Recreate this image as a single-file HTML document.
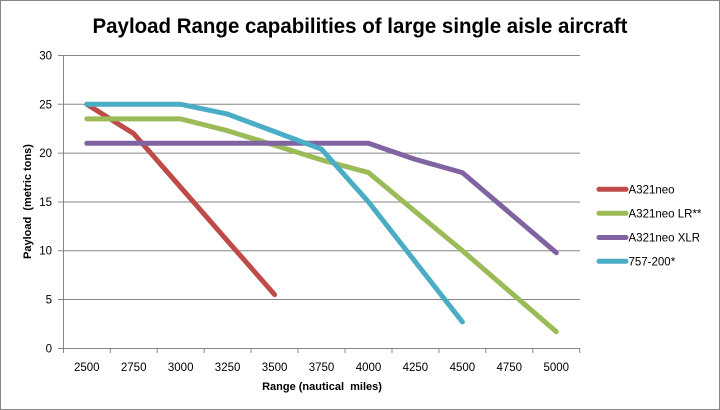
<!DOCTYPE html>
<html>
<head>
<meta charset="utf-8">
<style>
html,body{margin:0;padding:0;background:#fff;}
svg{display:block;}
text{font-family:"Liberation Sans",Arial,sans-serif;fill:#000;}
</style>
</head>
<body>
<svg width="720" height="410" viewBox="0 0 720 410" xmlns="http://www.w3.org/2000/svg">
<rect x="0.5" y="0.5" width="719" height="409" fill="#fff" stroke="#868686" stroke-width="1"/>
<text x="360" y="33" font-size="21" font-weight="bold" text-anchor="middle" textLength="535" lengthAdjust="spacingAndGlyphs">Payload Range capabilities of large single aisle aircraft</text>

<!-- gridlines -->
<g stroke="#868686" stroke-width="1">
<line x1="58" y1="55.5" x2="580" y2="55.5"/>
<line x1="58" y1="104.3" x2="580" y2="104.3"/>
<line x1="58" y1="153.1" x2="580" y2="153.1"/>
<line x1="58" y1="202" x2="580" y2="202"/>
<line x1="58" y1="250.7" x2="580" y2="250.7"/>
<line x1="58" y1="299.5" x2="580" y2="299.5"/>
<line x1="58" y1="348.5" x2="580" y2="348.5"/>
<line x1="63.5" y1="55.5" x2="63.5" y2="353"/>
<line x1="110.3" y1="348" x2="110.3" y2="353"/>
<line x1="157.2" y1="348" x2="157.2" y2="353"/>
<line x1="204.2" y1="348" x2="204.2" y2="353"/>
<line x1="251.1" y1="348" x2="251.1" y2="353"/>
<line x1="298" y1="348" x2="298" y2="353"/>
<line x1="345" y1="348" x2="345" y2="353"/>
<line x1="392" y1="348" x2="392" y2="353"/>
<line x1="438.9" y1="348" x2="438.9" y2="353"/>
<line x1="485.8" y1="348" x2="485.8" y2="353"/>
<line x1="532.8" y1="348" x2="532.8" y2="353"/>
<line x1="579.7" y1="348" x2="579.7" y2="353"/>
</g>

<!-- y tick labels -->
<g font-size="11.5" text-anchor="end">
<text x="52" y="59.5">30</text>
<text x="52" y="108.3">25</text>
<text x="52" y="157.1">20</text>
<text x="52" y="206">15</text>
<text x="52" y="254.7">10</text>
<text x="52" y="303.5">5</text>
<text x="52" y="352.5">0</text>
</g>

<!-- x tick labels -->
<g font-size="11.5" text-anchor="middle">
<text x="86.8" y="371">2500</text>
<text x="133.7" y="371">2750</text>
<text x="180.7" y="371">3000</text>
<text x="227.6" y="371">3250</text>
<text x="274.6" y="371">3500</text>
<text x="321.5" y="371">3750</text>
<text x="368.5" y="371">4000</text>
<text x="415.4" y="371">4250</text>
<text x="462.4" y="371">4500</text>
<text x="509.3" y="371">4750</text>
<text x="556.3" y="371">5000</text>
</g>

<text x="322" y="390" font-size="11" font-weight="bold" text-anchor="middle" xml:space="preserve">Range (nautical  miles)</text>
<text transform="translate(31,201.5) rotate(-90)" font-size="11" font-weight="bold" text-anchor="middle" xml:space="preserve">Payload  (metric tons)</text>

<!-- series -->
<g fill="none" stroke-width="5" stroke-linecap="round" stroke-linejoin="round">
<polyline stroke="#BE4B48" points="86.8,104.3 133.7,133.6 180.7,187.3 227.6,241 274.6,294.6"/>
<polyline stroke="#9BBB59" points="86.8,118.9 133.7,118.9 180.7,118.9 227.6,130.7 274.6,145.3 321.5,159.9 368.5,172.6 415.4,211.7 462.4,250.7 509.3,291.2 556.3,331.7"/>
<polyline stroke="#8064A2" points="86.8,143.3 133.7,143.3 180.7,143.3 227.6,143.3 274.6,143.3 321.5,143.3 368.5,143.3 415.4,159.4 462.4,172.6 509.3,212.6 556.3,252.7"/>
<polyline stroke="#4BACC6" points="86.8,104.3 133.7,104.3 180.7,104.3 227.6,114.1 274.6,131.6 321.5,149.2 368.5,201.9 415.4,261.9 462.4,321.9"/>
</g>

<!-- legend -->
<g stroke-width="5" stroke-linecap="round">
<line x1="599" y1="189.3" x2="626" y2="189.3" stroke="#BE4B48"/>
<line x1="599" y1="213.3" x2="626" y2="213.3" stroke="#9BBB59"/>
<line x1="599" y1="237.5" x2="626" y2="237.5" stroke="#8064A2"/>
<line x1="599" y1="261.3" x2="626" y2="261.3" stroke="#4BACC6"/>
</g>
<g font-size="11.5">
<text x="628.5" y="193.5">A321neo</text>
<text x="628.5" y="217.5">A321neo LR**</text>
<text x="628.5" y="241.7">A321neo XLR</text>
<text x="628.5" y="265.5">757-200*</text>
</g>
</svg>
</body>
</html>
